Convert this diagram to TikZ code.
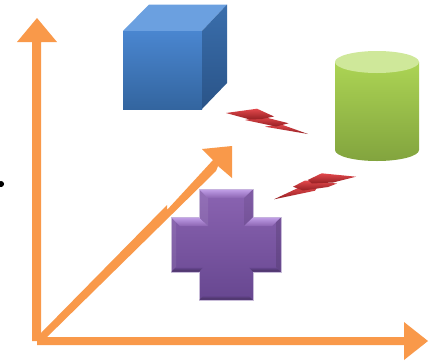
\documentclass[tikz,border=0pt]{standalone}
\definecolor{axis}{HTML}{F9994A}
\definecolor{boltlight}{HTML}{E2484C}
\definecolor{boltdark}{HTML}{941F22}
\definecolor{crosstop}{HTML}{8B64B2}
\definecolor{crossbot}{HTML}{674790}
\definecolor{crosslight}{HTML}{C09EE6}
\definecolor{crosssoft}{HTML}{A684CC}
\definecolor{crossdark}{HTML}{45305F}
\definecolor{crossrim}{HTML}{C8BCD8}
\tikzset{
  axisfill/.style={fill=axis,draw=none},
  facet/.style={draw=none},
  boltlobe/.style={draw=none,top color=boltlight,bottom color=boltdark},
  toplit/.style={draw=none,top color=crosslight,bottom color=crosstop},
  lowdark/.style={draw=none,top color=crossbot,bottom color=crossdark},
}
\begin{document}
\begin{tikzpicture}[x=0.75pt,y=-0.75pt]
\useasboundingbox (0,0) rectangle (429,362);
\fill[white] (0,0) rectangle (429,362);
% bullet
\fill[black] (1,184) circle[radius=2.3pt];

% cube
\fill[fill={rgb,255:red,107;green,160;blue,224}] (123,31) -- (149,4.5) -- (227,4.5) -- (202,31) -- cycle;
\shade[facet,top color={rgb,255:red,74;green,134;blue,208},bottom color={rgb,255:red,51;green,101;blue,159}] (123,31) rectangle (202,109);
\shade[facet,top color={rgb,255:red,58;green,110;blue,172},bottom color={rgb,255:red,42;green,84;blue,136}] (202,31) -- (227,4.5) -- (227,83) -- (202,109) -- cycle;

% cylinder
\shade[facet,top color={rgb,255:red,172;green,212;blue,84},bottom color={rgb,255:red,130;green,164;blue,62}] (335,62) -- (335,150) arc[start angle=180,end angle=360,x radius=42,y radius=-11] -- (419,62) -- cycle;
\fill[fill={rgb,255:red,207;green,232;blue,154}] (377,62) ellipse[x radius=42,y radius=11];

% bolt 1
\shade[boltlobe] (265,126.7) -- (280,124) -- (308,134) -- cycle;
\shade[boltlobe] (245,120) -- (262,116.5) -- (288.7,123.3) -- (276,126.5) -- cycle;
\shade[boltlobe] (226,113) -- (257,108.7) -- (274,116.5) -- (262,119) -- (250,119.5) -- cycle;

% bolt 2
\shade[boltlobe] (274,199.3) -- (298,188) -- (318,186) -- (315,190.7) -- cycle;
\shade[boltlobe] (293,186.7) -- (305,180.5) -- (337,183.5) -- (328,187) -- (303,190.5) -- cycle;
\shade[boltlobe] (307.7,180) -- (321.7,173.3) -- (356,176.7) -- (333,182.5) -- (312,183.5) -- cycle;

% diagonal arrow
\fill[axisfill] (37,337) -- (41,333) -- (167,205) -- (167,210) -- (202,172) -- (213,160) -- (202,149) -- (232,146) -- (232,178) -- (218,166) -- (216,171) -- (43,341) -- (37,341) -- cycle;

% vertical arrow
\fill[axisfill] (32,341) -- (32,42) -- (17,42) -- (37,18) -- (57,42) -- (41,42) -- (41,341) -- cycle;
% horizontal arrow
\fill[axisfill] (37,345) -- (37,337) -- (404,337) -- (404,322) -- (428,341) -- (404,360) -- (404,345) -- cycle;

% cross body
\shade[draw=crossrim,line width=0.5pt,top color=crosstop,bottom color=crossbot]
  (199,189) -- (253,189) -- (253,217) -- (281,217) -- (281,272) -- (253,272) -- (253,300) -- (199,300) -- (199,272) -- (171,272) -- (171,217) -- (199,217) -- cycle;
% lit upper bevels
\shade[toplit] (199.5,189.5) -- (252.5,189.5) -- (244,198) -- (208,198) -- cycle;
\shade[toplit] (171.5,217.5) -- (199,217.5) -- (208,226) -- (180,226) -- cycle;
\shade[toplit] (253,217.5) -- (280.5,217.5) -- (272,226) -- (244,226) -- cycle;
% soft side bevels
\fill[white,opacity=0.08] (199.5,190) -- (208,198) -- (208,226) -- (199.5,217) -- cycle;
\fill[white,opacity=0.08] (171.5,218) -- (176,222) -- (176,267) -- (171.5,271.5) -- cycle;
\fill[black,opacity=0.08] (252.5,190) -- (244,198) -- (244,226) -- (252.5,217) -- cycle;
\fill[black,opacity=0.12] (280.5,218) -- (276,222) -- (276,267) -- (280.5,271.5) -- cycle;
% dark lower bevels
\shade[lowdark] (171.5,271.5) -- (175.5,267.5) -- (203,267.5) -- (199,271.5) -- cycle;
\shade[lowdark] (253,271.5) -- (249,267.5) -- (276.5,267.5) -- (280.5,271.5) -- cycle;
\shade[lowdark] (199.5,299.5) -- (203.5,295.5) -- (248.5,295.5) -- (252.5,299.5) -- cycle;
\end{tikzpicture}
\end{document}
